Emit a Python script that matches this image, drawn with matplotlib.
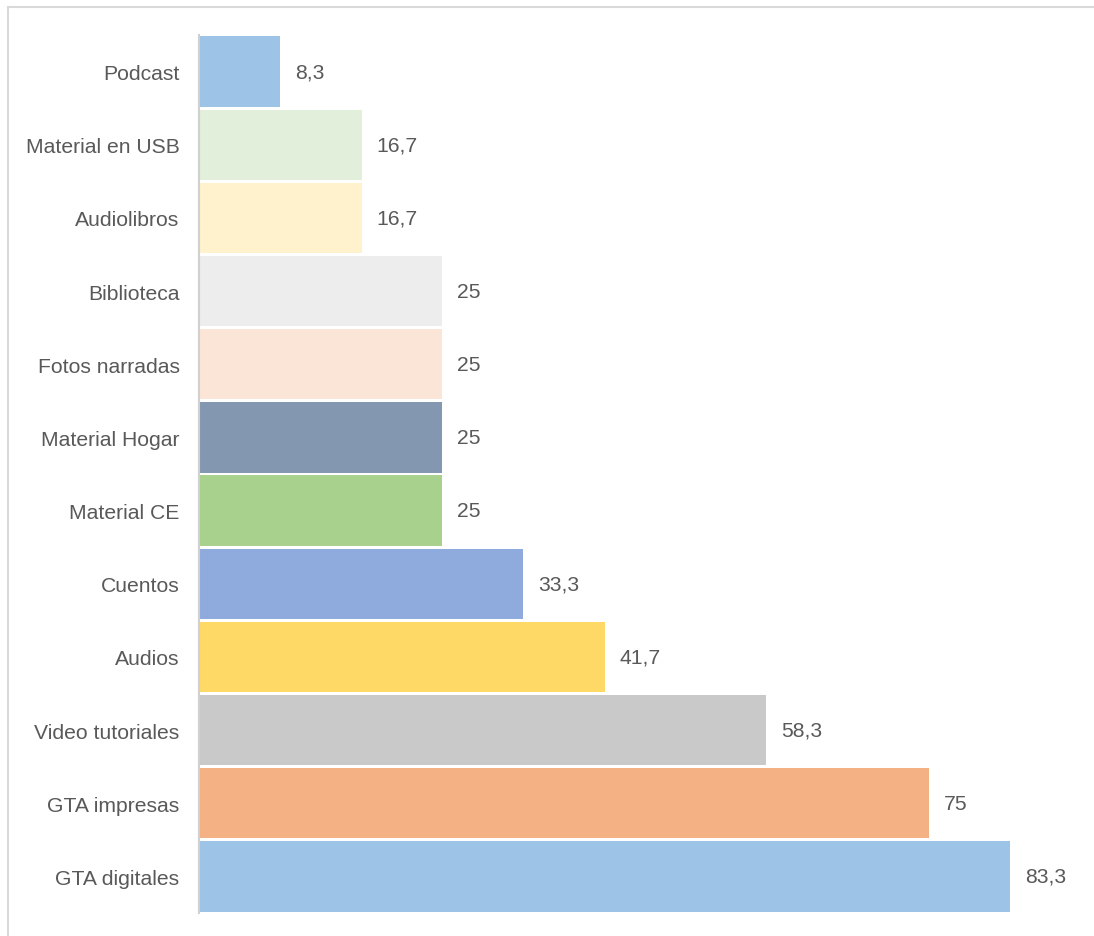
import matplotlib
matplotlib.use("Agg")
import matplotlib.pyplot as plt
from matplotlib.lines import Line2D

categories = ["Podcast", "Material en USB", "Audiolibros", "Biblioteca", "Fotos narradas",
              "Material Hogar", "Material CE", "Cuentos", "Audios", "Video tutoriales",
              "GTA impresas", "GTA digitales"]
values = [8.3, 16.7, 16.7, 25, 25, 25, 25, 33.3, 41.7, 58.3, 75, 83.3]
colors = ["#9DC3E6", "#E2EFDA", "#FFF2CC", "#EDEDED", "#FBE5D6", "#8497B0",
          "#A9D18E", "#8FAADC", "#FFD966", "#C9C9C9", "#F4B183", "#9DC3E6"]

plt.rcParams['font.family'] = ['Liberation Sans', 'DejaVu Sans']

W, H = 1094, 937
fig = plt.figure(figsize=(W / 100, H / 100), dpi=100)
# frame: top and left edges only
fig.add_artist(Line2D([7.5 / W, 7.5 / W], [0, 1 - 7.5 / H], transform=fig.transFigure,
                      color="#D9D9D9", linewidth=1.5))
fig.add_artist(Line2D([7.5 / W, 1093 / W], [1 - 7.5 / H, 1 - 7.5 / H], transform=fig.transFigure,
                      color="#D9D9D9", linewidth=1.5))

ax = fig.add_axes([199 / W, 1 - 914 / H, 876 / W, 878 / H])
n = len(categories)
ypos = list(range(n))
ax.barh(ypos, values, height=0.96, color=colors, edgecolor="none")
ax.set_ylim(n - 0.5, -0.5)
ax.set_xlim(0, 90)
ax.set_yticks(ypos)
ax.set_yticklabels(categories, fontsize=15.2, color="#595959")
ax.tick_params(axis='y', length=0, pad=14)
ax.set_xticks([])
for s in ["top", "right", "bottom"]:
    ax.spines[s].set_visible(False)
ax.spines["left"].set_color("#D0D0D0")
ax.spines["left"].set_linewidth(1.5)

for y, v in zip(ypos, values):
    lab = f"{v:g}".replace(".", ",")
    ax.annotate(lab, (v, y), xytext=(15, 0), textcoords="offset pixels",
                va="center", ha="left", fontsize=15.2, color="#595959")

fig.savefig("out.png", dpi=100)
